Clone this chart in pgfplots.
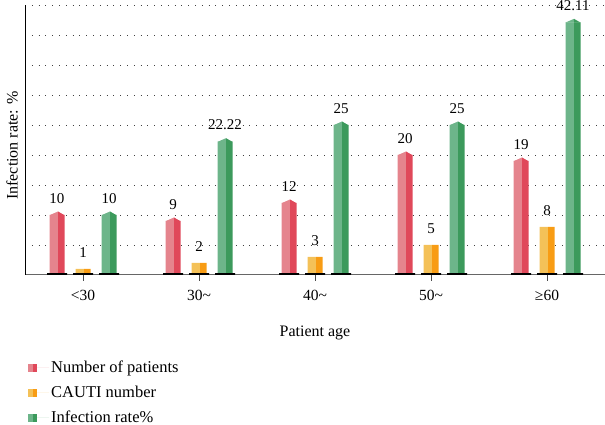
\documentclass[border=0pt]{standalone}
\usepackage{pgfplots}
\pgfplotsset{compat=1.18}
\usepackage{fontspec}
\setmainfont{Liberation Serif}
\definecolor{redL}{HTML}{E5848D}
\definecolor{redD}{HTML}{E0485A}
\definecolor{oraL}{HTML}{F4C158}
\definecolor{oraD}{HTML}{F89C14}
\definecolor{grnL}{HTML}{6DB58A}
\definecolor{grnD}{HTML}{3C9A5C}
\pgfdeclareplotmark{roofL}{\pgfpathmoveto{\pgfpoint{-7.5pt}{-0.2pt}}\pgfpathlineto{\pgfpoint{1pt}{3.5pt}}\pgfpathlineto{\pgfpoint{1pt}{-0.2pt}}\pgfpathclose\pgfusepath{fill}}
\pgfdeclareplotmark{roofD}{\pgfpathmoveto{\pgfpoint{1pt}{-0.2pt}}\pgfpathlineto{\pgfpoint{1pt}{3.5pt}}\pgfpathlineto{\pgfpoint{7.5pt}{-0.2pt}}\pgfpathclose\pgfusepath{fill}}
\begin{document}
\begin{tikzpicture}
\useasboundingbox (0,0) rectangle (605pt,425pt);
\begin{axis}[
  at={(25pt,150pt)}, anchor=south west,
  scale only axis, width=580pt, height=270pt,
  xmin=-0.5, xmax=4.5, ymin=0, ymax=45,
  xtick={0,1,2,3,4},
  xticklabels={{<30},{30\textasciitilde},{40\textasciitilde},{50\textasciitilde},{≥60}},
  ytick={5,10,...,45}, yticklabels={},
  ymajorgrids,
  grid style={black!75, line width=0.8pt, dash pattern=on 0.8pt off 6pt},
  axis x line=bottom, axis y line=left,
  axis line style={-},
  x axis line style={draw=black!60, line width=1pt},
  y axis line style={draw=black, line width=1pt},
  ytick style={draw=none},
  xtick style={draw=black!70, line width=0.8pt},
  tick align=outside, major tick length=6pt,
  /pgf/number format/assume math mode=true,
  ticklabel style={font=\fontsize{15.5}{18}\selectfont},
  xticklabel style={yshift=-6pt},
  xlabel={Patient age},
  ylabel={Infection rate: \%},
  every axis x label/.style={at={(axis description cs:0.5,0)}, anchor=center, yshift=-58pt, font=\fontsize{16}{19}\selectfont},
  every axis y label/.style={at={([xshift=-13pt]axis description cs:0,0.48)}, rotate=90, anchor=center, font=\fontsize{16}{19}\selectfont},
  every node near coord/.append style={font=\fontsize{15}{18}\selectfont, yshift=8pt},
  legend style={at={(axis description cs:0,0)}, anchor=north west, xshift=3pt, yshift=-84pt,
    draw=none, fill=none, font=\fontsize{16.5}{19}\selectfont, row sep=8pt, inner sep=0pt},
  legend cell align=left,
]
% Number of patients
\addplot[ybar, bar width=8.5pt, bar shift=-29.25pt, fill=redL, draw=none,
  nodes near coords, every node near coord/.append style={xshift=-26pt},
  legend image code/.code={\path (0pt,0pt) -- (21pt,0pt); \fill[redL] (0pt,-4pt) rectangle (5pt,4pt); \fill[redD] (5pt,-4pt) rectangle (9pt,4pt);}]
  coordinates {(0,10) (1,9) (2,12) (3,20) (4,19)};
\addlegendentry{Number of patients}
\addplot[ybar, bar width=6.5pt, bar shift=-21.75pt, fill=redD, draw=none, forget plot]
  coordinates {(0,10) (1,9) (2,12) (3,20) (4,19)};
\addplot[only marks, mark=roofL, mark options={fill=redL, draw=none, xshift=-26pt}, forget plot]
  coordinates {(0,10) (1,9) (2,12) (3,20) (4,19)};
\addplot[only marks, mark=roofD, mark options={fill=redD, draw=none, xshift=-26pt}, forget plot]
  coordinates {(0,10) (1,9) (2,12) (3,20) (4,19)};
% CAUTI number
\addplot[ybar, bar width=8.5pt, bar shift=-3.25pt, fill=oraL, draw=none,
  nodes near coords, every node near coord/.append style={xshift=0pt},
  legend image code/.code={\path (0pt,0pt) -- (21pt,0pt); \fill[oraL] (0pt,-4pt) rectangle (5pt,4pt); \fill[oraD] (5pt,-4pt) rectangle (9pt,4pt);}]
  coordinates {(0,1) (1,2) (2,3) (3,5) (4,8)};
\addlegendentry{CAUTI number}
\addplot[ybar, bar width=6.5pt, bar shift=4.25pt, fill=oraD, draw=none, forget plot]
  coordinates {(0,1) (1,2) (2,3) (3,5) (4,8)};
% Infection rate
\addplot[ybar, bar width=8.5pt, bar shift=22.75pt, fill=grnL, draw=none,
  nodes near coords, every node near coord/.append style={xshift=26pt},
  legend image code/.code={\path (0pt,0pt) -- (21pt,0pt); \fill[grnL] (0pt,-4pt) rectangle (5pt,4pt); \fill[grnD] (5pt,-4pt) rectangle (9pt,4pt);}]
  coordinates {(0,10) (1,22.22) (2,25) (3,25) (4,42.11)};
\addlegendentry{Infection rate\%}
\addplot[ybar, bar width=6.5pt, bar shift=30.25pt, fill=grnD, draw=none, forget plot]
  coordinates {(0,10) (1,22.22) (2,25) (3,25) (4,42.11)};
\addplot[only marks, mark=roofL, mark options={fill=grnL, draw=none, xshift=26pt}, forget plot]
  coordinates {(0,10) (1,22.22) (2,25) (3,25) (4,42.11)};
\addplot[only marks, mark=roofD, mark options={fill=grnD, draw=none, xshift=26pt}, forget plot]
  coordinates {(0,10) (1,22.22) (2,25) (3,25) (4,42.11)};
% black base segments
\addplot[ybar, bar width=20pt, bar shift=-26pt, fill=black, draw=none, forget plot]
  coordinates {(0,0.3) (1,0.3) (2,0.3) (3,0.3) (4,0.3)};
\addplot[ybar, bar width=20pt, bar shift=0pt, fill=black, draw=none, forget plot]
  coordinates {(0,0.3) (1,0.3) (2,0.3) (3,0.3) (4,0.3)};
\addplot[ybar, bar width=20pt, bar shift=26pt, fill=black, draw=none, forget plot]
  coordinates {(0,0.3) (1,0.3) (2,0.3) (3,0.3) (4,0.3)};
\end{axis}
\end{tikzpicture}
\end{document}
